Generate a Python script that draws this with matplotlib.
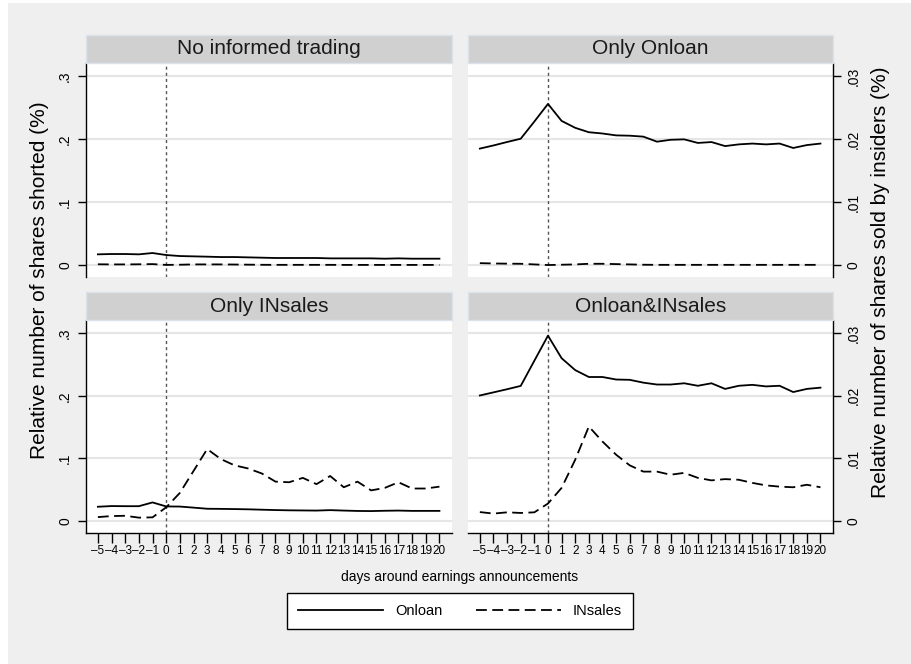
import matplotlib
matplotlib.use("Agg")
import matplotlib.pyplot as plt
from matplotlib.patches import Rectangle
from matplotlib.lines import Line2D
from matplotlib import font_manager

days = list(range(-5, 21))

titles = ["No informed trading", "Only Onloan", "Only INsales", "Onloan&INsales"]

onloan_none = [0.0170, 0.0175, 0.0175, 0.0170, 0.0191, 0.0159, 0.0143, 0.0138, 0.0133, 0.0127,
               0.0127, 0.0122, 0.0117, 0.0112, 0.0112, 0.0112, 0.0112, 0.0106, 0.0106, 0.0106,
               0.0106, 0.0101, 0.0106, 0.0101, 0.0101, 0.0101]
insales_none = [0.00012, 0.0001, 0.0001, 0.00012, 0.00015, 0.00002, 0.00005, 0.0001, 0.0001, 0.0001,
                0.00008, 0.00006, 0.00004, 0.00003, 0.00003, 0.00003, 0.00003, 0.00003, 0.00002, 0.00002,
                0.00002, 0.00002, 0.00002, 0.00002, 0.00002, 0.00002]

onloan_only_onloan = [0.185, 0.190, 0.1955, 0.2007, 0.228, 0.256, 0.229, 0.218, 0.211, 0.209,
                      0.206, 0.2055, 0.204, 0.196, 0.199, 0.1997, 0.194, 0.1954, 0.189, 0.1917,
                      0.193, 0.1917, 0.193, 0.186, 0.1906, 0.193]
insales_only_onloan = [0.0003, 0.00025, 0.00022, 0.0002, 0.0001, 0.0, 0.00005, 0.0001, 0.0002, 0.0002,
                       0.00015, 0.0001, 0.00005, 0.00003, 0.00003, 0.00003, 0.00003, 0.00003, 0.00003, 0.00003,
                       0.00003, 0.00003, 0.00003, 0.00003, 0.00003, 0.00003]

onloan_only_insales = [0.0229, 0.0240, 0.0238, 0.0238, 0.0298, 0.0234, 0.0232, 0.0215, 0.0197, 0.0195,
                       0.0192, 0.0188, 0.0182, 0.0176, 0.0172, 0.0170, 0.0168, 0.0175, 0.0168, 0.0162,
                       0.0160, 0.0165, 0.0168, 0.0163, 0.0163, 0.0163]
insales_only_insales = [0.00064, 0.0008, 0.00085, 0.00055, 0.0006, 0.0022, 0.0045, 0.0080, 0.0115, 0.0099,
                        0.0089, 0.0084, 0.0076, 0.0063, 0.0062, 0.0069, 0.0059, 0.0072, 0.0054, 0.0063,
                        0.0049, 0.0053, 0.0062, 0.0052, 0.0052, 0.0055]

onloan_both = [0.2005, 0.2055, 0.2105, 0.2158, 0.256, 0.296, 0.260, 0.241, 0.230, 0.230,
               0.226, 0.2255, 0.221, 0.218, 0.218, 0.220, 0.216, 0.220, 0.211, 0.216,
               0.2175, 0.215, 0.216, 0.206, 0.211, 0.213]
insales_both = [0.00144, 0.0012, 0.0014, 0.0013, 0.0014, 0.0028, 0.0053, 0.0098, 0.0151, 0.0127,
                0.0106, 0.0089, 0.0079, 0.0079, 0.0074, 0.0077, 0.0069, 0.0065, 0.0067, 0.0066,
                0.0061, 0.0057, 0.0055, 0.0054, 0.0058, 0.0054]

onloan_series = [onloan_none, onloan_only_onloan, onloan_only_insales, onloan_both]
insales_series = [insales_none, insales_only_onloan, insales_only_insales, insales_both]

left_ticks = [0, 0.1, 0.2, 0.3]
left_ticklabels = ["0", ".1", ".2", ".3"]
right_ticks = [0, 0.01, 0.02, 0.03]
right_ticklabels = ["0", ".01", ".02", ".03"]

W, H = 911, 664
installed = {f.name for f in font_manager.fontManager.ttflist}
has_narrow = "Liberation Sans Narrow" in installed
narrow = ["Liberation Sans Narrow" if has_narrow else "Liberation Sans", "DejaVu Sans"]
plain = ["Liberation Sans", "DejaVu Sans"]
plt.rcParams["font.family"] = plain

fig = plt.figure(figsize=(W / 100, H / 100), dpi=100, facecolor="white")
fig.patches.append(Rectangle((8 / W, 0), 1 - 8 / W, 1 - 3 / H, transform=fig.transFigure,
                             facecolor="#efefef", edgecolor="none", zorder=-5))

# panel boxes in pixels: (left, top, right, bottom)
boxes = [(86, 63, 452, 277), (468, 63, 833, 277), (86, 320, 452, 533), (468, 320, 833, 533)]
ylim = (-0.019, 0.321)
xlim = (-5.87, 20.92)
dash = (0, (6, 3))

tick_fs = 9.5 if has_narrow else 8.5

for i, (l, t, r, b) in enumerate(boxes):
    ax = fig.add_axes([l / W, 1 - b / H, (r - l) / W, (b - t) / H])
    ax.set_facecolor("white")
    ax.set_xlim(xlim)
    ax.set_ylim(ylim)
    ax2 = ax.twinx()
    ax2.set_ylim(ylim[0] / 10, ylim[1] / 10)

    for y in left_ticks:
        ax.axhline(y, color="#e6e6e6", lw=1.5, zorder=1)
    ax.axvline(0, color="#555555", lw=1, linestyle=(0, (2.2, 2.2)), zorder=2)

    ax.plot(days, onloan_series[i], color="black", lw=1.3, zorder=3)
    ax2.plot(days, insales_series[i], color="black", lw=1.3, linestyle=dash, zorder=3)

    for a in (ax, ax2):
        for s in a.spines.values():
            s.set_visible(False)
        a.tick_params(which="both", left=False, right=False, labelleft=False, labelright=False,
                      bottom=False, labelbottom=False)

    is_left = i % 2 == 0
    is_bottom = i >= 2
    if is_left:
        ax.spines["left"].set_visible(True)
        ax.spines["left"].set_linewidth(1)
        ax.set_yticks(left_ticks)
        ax.set_yticklabels(left_ticklabels, rotation=90, va="center", family=narrow, fontsize=10)
        ax.tick_params(axis="y", left=True, labelleft=True, length=6, width=1, pad=4)
    else:
        ax2.spines["right"].set_visible(True)
        ax2.spines["right"].set_linewidth(1)
        ax2.set_yticks(right_ticks)
        ax2.set_yticklabels(right_ticklabels, rotation=90, va="center", family=narrow, fontsize=10)
        ax2.tick_params(axis="y", right=True, labelright=True, length=6, width=1, pad=4)
    if is_bottom:
        ax.spines["bottom"].set_visible(True)
        ax.spines["bottom"].set_linewidth(1)
        ax.set_xticks(days)
        ax.set_xticklabels([str(d).replace("-", "\u2013") for d in days], family=narrow,
                           fontsize=tick_fs)
        ax.tick_params(axis="x", bottom=True, labelbottom=True, length=7, width=1, pad=2)
    else:
        ax.set_xticks([])

    # title strip
    fig.patches.append(Rectangle((l / W, 1 - t / H), (r - l) / W, 28 / H, transform=fig.transFigure,
                                 facecolor="#d0d0d0", edgecolor="#dae3ec", lw=1, zorder=1))
    fig.text((l + r) / 2 / W, 1 - (t - 14) / H, titles[i], ha="center", va="center",
             fontsize=15, color="#1a1a1a")

fig.text(40 / W, 1 - 280 / H, "Relative number of shares shorted (%)", rotation=90,
         ha="center", va="center", fontsize=15)
fig.text(880 / W, 1 - 282 / H, "Relative number of shares sold by insiders (%)", rotation=90,
         ha="center", va="center", fontsize=15)
fig.text(460 / W, 1 - 577 / H, "days around earnings announcements", ha="center", va="center",
         family=narrow, fontsize=12 if has_narrow else 10)

handles = [Line2D([], [], color="black", lw=1.3),
           Line2D([], [], color="black", lw=1.3, linestyle=dash)]
lfs = 12 if has_narrow else 10.5
leg = fig.legend(handles, ["Onloan", "INsales"], loc="center", ncol=2,
                 bbox_to_anchor=(460 / W, 1 - 611 / H), frameon=True, fancybox=False,
                 handlelength=85 / (lfs * 1.389), handletextpad=0.8, columnspacing=2.3,
                 borderpad=0.75, prop={"family": narrow, "size": lfs})
leg.get_frame().set_edgecolor("black")
leg.get_frame().set_linewidth(1)
leg.get_frame().set_facecolor("white")
leg.get_frame().set_alpha(None)

fig.savefig("out.png", dpi=100, facecolor=fig.get_facecolor())
